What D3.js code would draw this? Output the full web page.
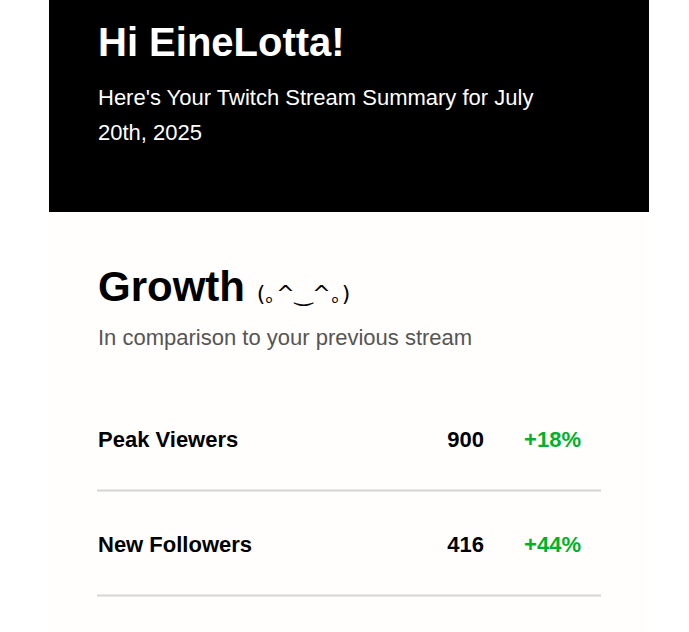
<!DOCTYPE html>
<html><head><meta charset="utf-8">
<script src="https://cdn.jsdelivr.net/npm/d3@7"></script>
<style>body{margin:0;background:#fff}</style>
</head><body>
<svg id="card" width="689" height="632"></svg>
<script>
var labels = ["Peak Viewers", "New Followers"];
var values = [900, 416];
var changes = ["+18%", "+44%"];

var svg = d3.select("#card");
var font = "Liberation Sans, Arial, sans-serif";

svg.append("rect").attr("x", 49).attr("y", 0).attr("width", 600).attr("height", 212).attr("fill", "#000");
svg.append("rect").attr("x", 49).attr("y", 212).attr("width", 600).attr("height", 420).attr("fill", "#fffefd");

svg.append("text").attr("x", 98).attr("y", 56).attr("font-family", font).attr("font-size", 40)
    .attr("font-weight", "bold").attr("fill", "#fff").text("Hi EineLotta!");
svg.append("text").attr("x", 98).attr("y", 105).attr("font-family", font).attr("font-size", 22)
    .attr("fill", "#fff").text("Here's Your Twitch Stream Summary for July");
svg.append("text").attr("x", 98).attr("y", 140).attr("font-family", font).attr("font-size", 22)
    .attr("fill", "#fff").text("20th, 2025");

var g = svg.append("text").attr("x", 98).attr("y", 301).attr("font-family", font).attr("fill", "#000");
g.append("tspan").attr("font-size", 42).attr("font-weight", "bold").text("Growth ");
g.append("tspan").attr("font-size", 22).attr("font-family", "DejaVu Sans, sans-serif").text("(｡^‿^｡)");

svg.append("text").attr("x", 98).attr("y", 345).attr("font-family", font).attr("font-size", 22)
    .attr("fill", "#555").text("In comparison to your previous stream");

// rows
var y = d3.scaleBand().domain(labels).range([387, 597]);
var row = svg.selectAll("g.row").data(labels).enter().append("g").attr("class", "row")
    .attr("transform", d => `translate(0,${y(d)})`);
row.append("text").attr("x", 98).attr("y", 60).attr("font-family", font).attr("font-size", 22)
    .attr("font-weight", "bold").text(d => d);
row.append("text").attr("x", 484).attr("y", 60).attr("text-anchor", "end").attr("font-family", font)
    .attr("font-size", 22).attr("font-weight", "bold").text((d, i) => values[i]);
row.append("text").attr("x", 581).attr("y", 60).attr("text-anchor", "end").attr("font-family", font)
    .attr("font-size", 22).attr("font-weight", "bold").attr("fill", "#00b12a").text((d, i) => changes[i]);
row.append("line").attr("x1", 97).attr("x2", 601).attr("y1", 103.5).attr("y2", 103.5)
    .attr("stroke", "#d4d4d4").attr("stroke-width", 2);
</script>
</body></html>
